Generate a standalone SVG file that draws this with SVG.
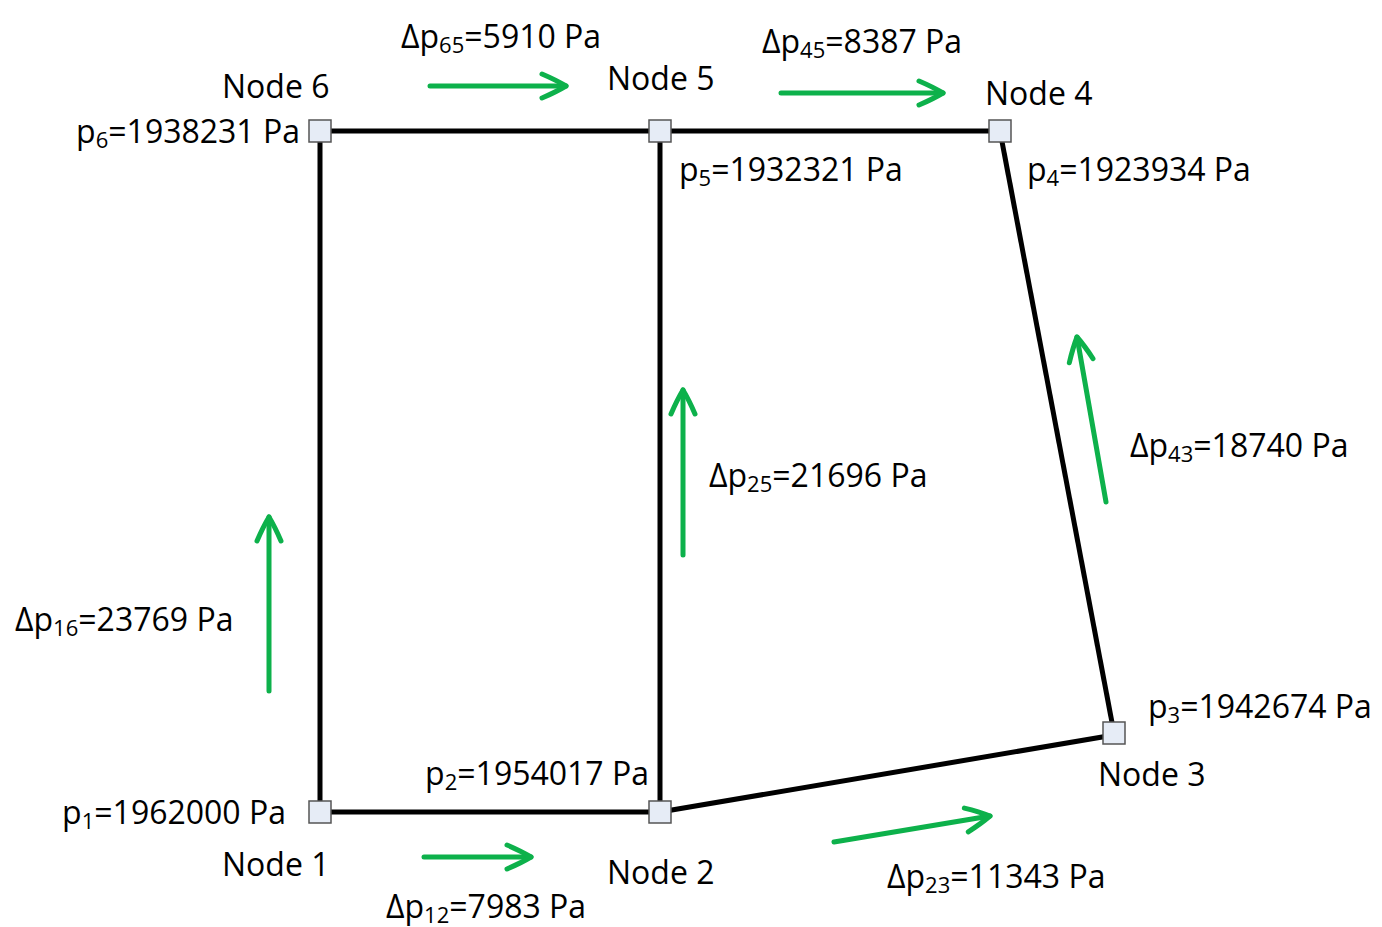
<svg xmlns="http://www.w3.org/2000/svg" width="1382" height="927" viewBox="0 0 1382 927">
<defs>
<style>
text{font-family:"Open Sans","Liberation Sans",sans-serif;font-size:32px;fill:#000}
.s{font-size:22px}
.edge{stroke:#000;stroke-width:5;fill:none}
.flow{stroke:#0db14b;stroke-width:5;fill:none;stroke-linecap:round;stroke-linejoin:round}
.node rect{fill:#e6ecf6;stroke:#555;stroke-width:1.5}
</style>
<marker id="ah" viewBox="-30 -16 34 32" refX="0" refY="0" markerWidth="34" markerHeight="32" markerUnits="userSpaceOnUse" orient="auto" overflow="visible">
<path d="M-24,-12 Q-10,-6 0,0 Q-10,6 -24,12" fill="none" stroke="#0db14b" stroke-width="5" stroke-linecap="round" stroke-linejoin="round"/>
</marker>
</defs>
<rect width="1382" height="927" fill="#fff"/>
<g id="connectors">
<line class="edge" x1="320" y1="131" x2="660" y2="131"/>
<line class="edge" x1="660" y1="131" x2="1000" y2="131"/>
<line class="edge" x1="320" y1="131" x2="320" y2="812"/>
<line class="edge" x1="660" y1="131" x2="660" y2="812"/>
<line class="edge" x1="320" y1="812" x2="660" y2="812"/>
<line class="edge" x1="660" y1="812" x2="1114" y2="735"/>
<line class="edge" x1="1000" y1="131" x2="1114" y2="733"/>
</g>
<g id="flows">
<line class="flow" x1="430" y1="86" x2="566" y2="86" marker-end="url(#ah)"/>
<line class="flow" x1="781" y1="93" x2="943" y2="93" marker-end="url(#ah)"/>
<line class="flow" x1="424" y1="857" x2="531" y2="857" marker-end="url(#ah)"/>
<line class="flow" x1="834" y1="842" x2="990" y2="816" marker-end="url(#ah)"/>
<line class="flow" x1="269" y1="691" x2="269" y2="517" marker-end="url(#ah)"/>
<line class="flow" x1="683" y1="555" x2="683" y2="390" marker-end="url(#ah)"/>
<line class="flow" x1="1106" y1="502" x2="1077" y2="337" marker-end="url(#ah)"/>
</g>
<g id="node6" class="node"><rect x="309" y="120" width="22" height="22"/>
<text x="222" y="98">Node 6</text>
<text x="300" y="143" text-anchor="end">p<tspan class="s" dy="5">6</tspan><tspan dy="-5">=1938231 Pa</tspan></text></g>
<g id="node5" class="node"><rect x="649" y="120" width="22" height="22"/>
<text x="607" y="90">Node 5</text>
<text x="679" y="181">p<tspan class="s" dy="5">5</tspan><tspan dy="-5">=1932321 Pa</tspan></text></g>
<g id="node4" class="node"><rect x="989" y="120" width="22" height="22"/>
<text x="985" y="105">Node 4</text>
<text x="1027" y="181">p<tspan class="s" dy="5">4</tspan><tspan dy="-5">=1923934 Pa</tspan></text></g>
<g id="node3" class="node"><rect x="1103" y="722" width="22" height="22"/>
<text x="1098" y="786">Node 3</text>
<text x="1148" y="718">p<tspan class="s" dy="5">3</tspan><tspan dy="-5">=1942674 Pa</tspan></text></g>
<g id="node2" class="node"><rect x="649" y="801" width="22" height="22"/>
<text x="607" y="884">Node 2</text>
<text x="649" y="785" text-anchor="end">p<tspan class="s" dy="5">2</tspan><tspan dy="-5">=1954017 Pa</tspan></text></g>
<g id="node1" class="node"><rect x="309" y="801" width="22" height="22"/>
<text x="222" y="876">Node 1</text>
<text x="286" y="824" text-anchor="end">p<tspan class="s" dy="5">1</tspan><tspan dy="-5">=1962000 Pa</tspan></text></g>
<g id="labels">
<text x="401" y="48">Δp<tspan class="s" dy="5">65</tspan><tspan dy="-5">=5910 Pa</tspan></text>
<text x="762" y="53">Δp<tspan class="s" dy="5">45</tspan><tspan dy="-5">=8387 Pa</tspan></text>
<text x="1130" y="457">Δp<tspan class="s" dy="5">43</tspan><tspan dy="-5">=18740 Pa</tspan></text>
<text x="709" y="487">Δp<tspan class="s" dy="5">25</tspan><tspan dy="-5">=21696 Pa</tspan></text>
<text x="15" y="631">Δp<tspan class="s" dy="5">16</tspan><tspan dy="-5">=23769 Pa</tspan></text>
<text x="386" y="918">Δp<tspan class="s" dy="5">12</tspan><tspan dy="-5">=7983 Pa</tspan></text>
<text x="887" y="888">Δp<tspan class="s" dy="5">23</tspan><tspan dy="-5">=11343 Pa</tspan></text>
</g>
</svg>
